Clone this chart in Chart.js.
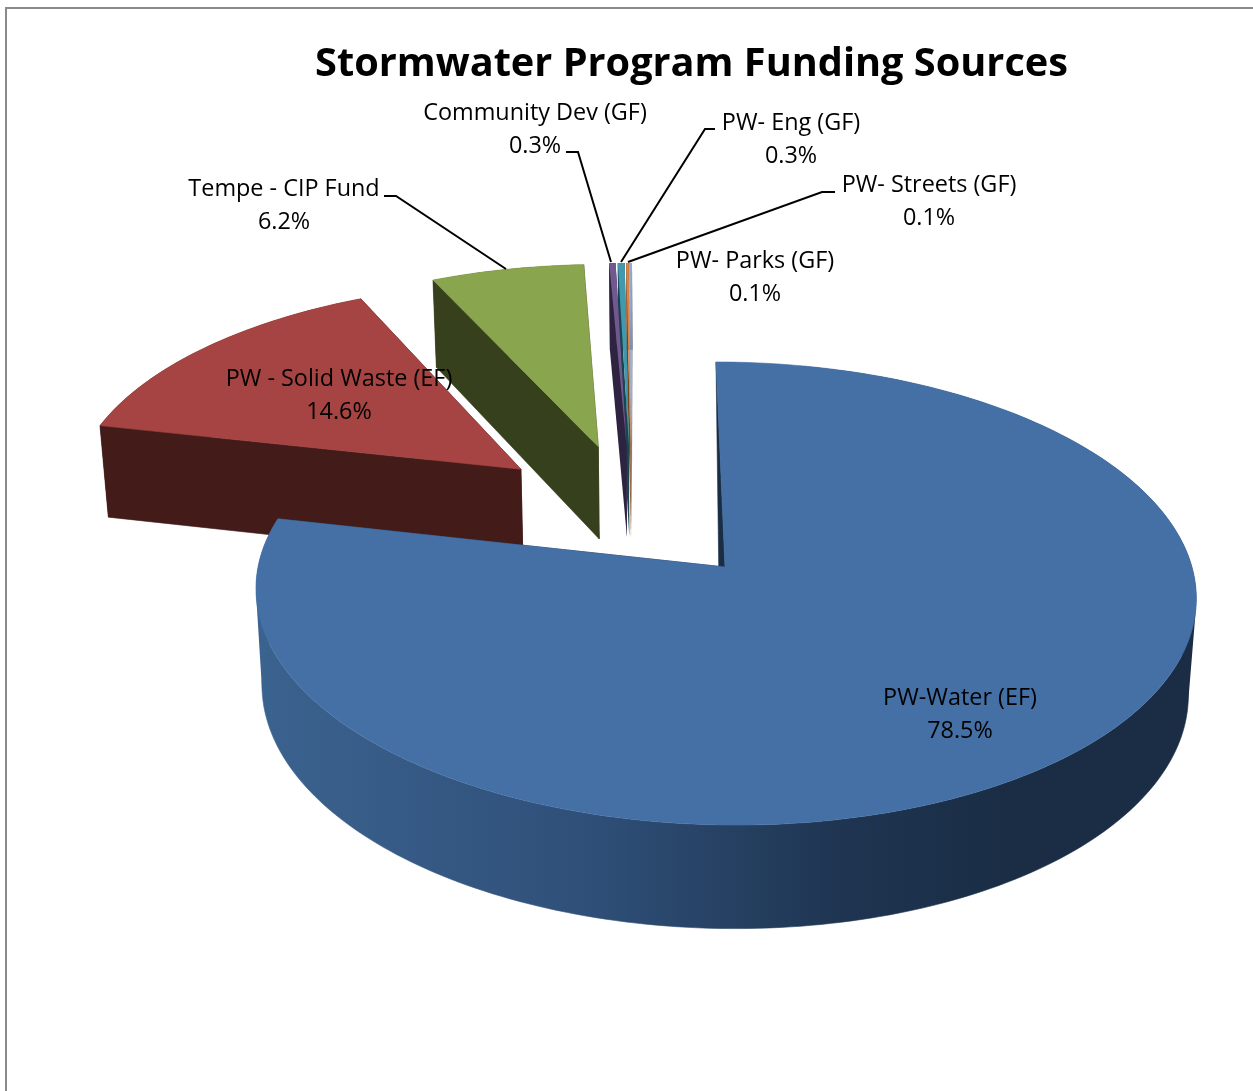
<!DOCTYPE html>
<html>
<head>
<meta charset="utf-8">
<title>Stormwater Program Funding Sources</title>
<script src="https://cdn.jsdelivr.net/npm/chart.js@4"></script>
<style>
  html, body { margin: 0; background: #fff; overflow: hidden; }
  #marco { position: absolute; left: 5px; top: 7px; right: 0; bottom: 0; border-left: 2px solid #8a8a8a; border-top: 2px solid #8a8a8a; }
  canvas { position: absolute; left: 0; top: 0; }
</style>
</head>
<body>
<div id="marco"></div>
<canvas id="grafico" width="1253" height="1091"></canvas>
<script>
const categorias = ['PW-Water (EF)', 'PW - Solid Waste (EF)', 'Tempe - CIP Fund', 'Community Dev (GF)', 'PW- Eng (GF)', 'PW- Streets (GF)', 'PW- Parks (GF)'];
const porcentajes = [78.5, 14.6, 6.2, 0.26, 0.28, 0.1, 0.1];
const coloresCara = ['#4570a6', '#a54442', '#89a54d', '#71588f', '#4198af', '#db843d', '#93a9cf'];
const coloresLado = ['#1a2d45', '#431b19', '#36401c', '#2f2342', '#184650', '#7a4218', '#4d5a70'];

// centro de cada etiqueta (primera linea)
const posEtiquetas = [[960, 698], [339, 379], [284, 189], [535, 113], [791, 123], [929, 185], [755, 261]];
const lineasGuia = [
  [[384, 196], [396, 196], [506, 269]],
  [[566, 152], [578, 152], [611, 262]],
  [[715, 129], [705, 129], [621, 262]],
  [[835, 192], [822, 192], [628, 262]]
];

const EXPLOSION = 0.32;

// perspectiva del plano del pie, respecto al vertice de la porcion azul
function proyectar(u, v) {
  const w = 1 - 0.1145 * v;
  return { x: 725 + (467 * u + 10 * v) / w, y: 567 + 228.5 * v / w };
}

// mismo punto en la base del pie
function bajar(p) {
  return {
    x: p.x + 0.0149 * (659 - p.x),
    y: p.y + 92 + 0.03 * (p.y - 440)
  };
}

function puntoPorcion(arc, base, r, ang) {
  const mid = (arc.startAngle + arc.endAngle) / 2;
  return proyectar(
    EXPLOSION * Math.cos(mid) + r * Math.cos(ang) - base.u,
    EXPLOSION * Math.sin(mid) + r * Math.sin(ang) - base.v
  );
}

function rellenar(ctx, puntos, color, grosor) {
  ctx.fillStyle = color;
  ctx.beginPath();
  puntos.forEach((p, i) => i ? ctx.lineTo(p.x, p.y) : ctx.moveTo(p.x, p.y));
  ctx.closePath();
  ctx.fill();
  if (grosor) {
    ctx.strokeStyle = color;
    ctx.lineWidth = grosor;
    ctx.stroke();
  }
}

// pared exterior: todos los tramos en un solo path y con la misma orientacion, asi no quedan costuras
function pared(ctx, borde, color, grosor) {
  ctx.fillStyle = color;
  ctx.beginPath();
  for (let k = 0; k < borde.length - 1; k++) {
    const a = borde[k], b = borde[k + 1], c = bajar(b), d = bajar(a);
    let q = [a, b, c, d];
    const area = (b.x - a.x) * (c.y - a.y) - (c.x - a.x) * (b.y - a.y);
    if (area < 0) q = q.reverse();
    q.forEach((p, i) => i ? ctx.lineTo(p.x, p.y) : ctx.moveTo(p.x, p.y));
    ctx.closePath();
  }
  ctx.fill();
  if (grosor) {
    ctx.strokeStyle = color;
    ctx.lineWidth = grosor;
    ctx.beginPath();
    borde.map(bajar).forEach((p, i) => i ? ctx.lineTo(p.x, p.y) : ctx.moveTo(p.x, p.y));
    ctx.stroke();
  }
}

const pie3d = {
  id: 'pie3d',
  beforeDatasetsDraw(chart) {
    const ctx = chart.ctx;
    const arcs = chart.getDatasetMeta(0).data;
    const midAzul = (arcs[0].startAngle + arcs[0].endAngle) / 2;
    const base = { u: EXPLOSION * Math.cos(midAzul), v: EXPLOSION * Math.sin(midAzul) };

    const degradado = ctx.createLinearGradient(256, 0, 1000, 0);
    degradado.addColorStop(0, '#3b638f');
    degradado.addColorStop(0.45, '#2f4f78');
    degradado.addColorStop(0.8, '#1e3450');
    degradado.addColorStop(1, '#1a2d45');

    ctx.save();
    // de atras hacia adelante
    for (let i = arcs.length - 1; i >= 0; i--) {
      const arc = arcs[i];
      const lado = i === 0 ? degradado : coloresLado[i];
      const grosor = i < 3 ? 0.6 : 0;
      const pasos = Math.max(2, Math.ceil((arc.endAngle - arc.startAngle) / 0.02));
      const borde = [];
      for (let k = 0; k <= pasos; k++) {
        borde.push(puntoPorcion(arc, base, 1, arc.startAngle + (arc.endAngle - arc.startAngle) * k / pasos));
      }
      const vertice = puntoPorcion(arc, base, 0, 0);
      const verticeBajo = bajar(vertice);
      const inicioBajo = bajar(borde[0]);
      // la cara de la porcion azul se ve un poco por la izquierda del corte
      if (i === 0) {
        verticeBajo.x -= 4;
        inicioBajo.x += 2;
      }

      // caras radiales
      rellenar(ctx, [vertice, borde[0], inicioBajo, verticeBajo], i === 0 ? coloresLado[0] : lado, grosor);
      rellenar(ctx, [vertice, borde[pasos], bajar(borde[pasos]), verticeBajo], i === 0 ? coloresLado[0] : lado, grosor);
      pared(ctx, i === 0 ? borde.slice(10) : borde, lado, grosor);
      // cara superior
      rellenar(ctx, [vertice].concat(borde), arc.options.backgroundColor, grosor);
    }

    // lineas guia
    ctx.strokeStyle = '#000';
    ctx.lineWidth = 2;
    lineasGuia.forEach(linea => {
      ctx.beginPath();
      linea.forEach((p, i) => i ? ctx.lineTo(p[0], p[1]) : ctx.moveTo(p[0], p[1]));
      ctx.stroke();
    });

    // etiquetas
    ctx.fillStyle = '#000';
    ctx.font = '23.4px "Open Sans"';
    ctx.textAlign = 'center';
    ctx.textBaseline = 'middle';
    categorias.forEach((nombre, i) => {
      const [x, y] = posEtiquetas[i];
      ctx.fillText(nombre, x, y);
      ctx.fillText(porcentajes[i].toFixed(1) + '%', x, y + 33);
    });
    ctx.restore();
    return false;
  }
};

new Chart(document.getElementById('grafico').getContext('2d'), {
  type: 'pie',
  data: {
    labels: categorias,
    datasets: [{ data: porcentajes, backgroundColor: coloresCara, borderWidth: 0 }]
  },
  options: {
    responsive: false,
    animation: false,
    events: [],
    layout: { padding: { left: 130 } },
    plugins: {
      legend: { display: false },
      tooltip: { enabled: false },
      title: {
        display: true,
        text: 'Stormwater Program Funding Sources',
        fullSize: false,
        color: '#000',
        font: { family: '"Open Sans"', size: 39.7, weight: 'bold' },
        padding: { top: 41, bottom: 0 }
      }
    }
  },
  plugins: [pie3d]
});
</script>
</body>
</html>
